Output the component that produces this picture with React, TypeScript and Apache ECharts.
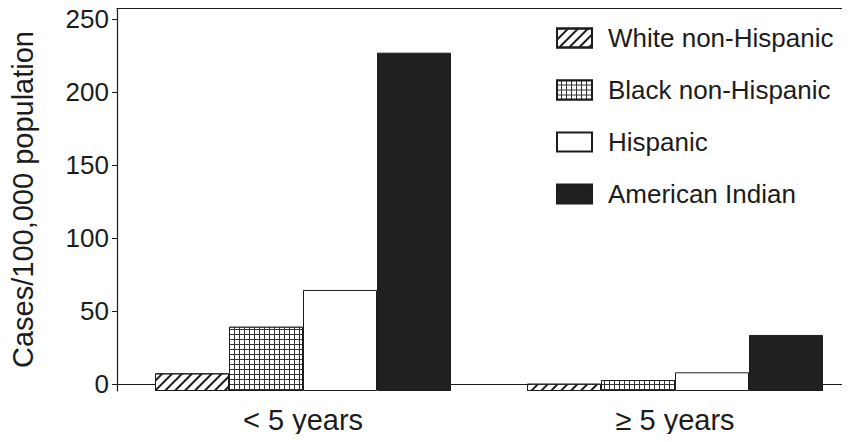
import React, { useEffect, useRef } from "react";
import * as echarts from "echarts";

const categories = ["< 5 years", "≥ 5 years"];
const seriesNames = ["White non-Hispanic", "Black non-Hispanic", "Hispanic", "American Indian"];
const whiteNonHispanic = [7.3, 0.2];
const blackNonHispanic = [39.2, 2.7];
const hispanic = [64.4, 8.0];
const americanIndian = [226.9, 33.6];
const yTicks = [0, 50, 100, 150, 200, 250];

const INK = "#1c1c1c";
const FONT = "'Liberation Sans', Arial, Helvetica, sans-serif";

export default function App() {
  const ref = useRef<HTMLDivElement>(null);
  useEffect(() => {
    if (!ref.current) return;
    const chart = echarts.init(ref.current, undefined, { renderer: "svg" });
    const styles: any[] = [
      {
        color: "#ffffff",
        borderColor: INK,
        borderWidth: 1,
        decal: {
          symbol: "rect",
          color: INK,
          dashArrayX: [1, 0],
          dashArrayY: [1.1, 5],
          rotation: -Math.PI / 4,
          symbolSize: 1,
        },
      },
      {
        color: "#333333",
        borderColor: INK,
        borderWidth: 1,
        decal: {
          symbol: "rect",
          color: "#ffffff",
          dashArrayX: [4, 1],
          dashArrayY: [4, 1],
          symbolSize: 1,
        },
      },
      { color: "#ffffff", borderColor: INK, borderWidth: 1 },
      { color: "#202020", borderColor: INK, borderWidth: 1 },
    ];
    const dataSets = [whiteNonHispanic, blackNonHispanic, hispanic, americanIndian];
    chart.setOption({
      animation: false,
      backgroundColor: "#ffffff",
      textStyle: { fontFamily: FONT, color: INK },
      grid: { left: 117, top: 8, width: 744, height: 383, containLabel: false },
      legend: {
        orient: "vertical",
        left: 556,
        top: 25,
        padding: 0,
        itemWidth: 35,
        itemHeight: 19,
        itemGap: 26,
        selectedMode: false,
        icon: "rect",
        textStyle: { fontSize: 26, color: INK, fontFamily: FONT, padding: [0, 0, 0, 11] },
        data: seriesNames,
      },
      xAxis: [
        {
          type: "category",
          data: categories,
          position: "bottom",
          axisLine: { show: true, lineStyle: { color: INK, width: 1.2 } },
          axisTick: { show: false },
          axisLabel: { fontSize: 29, color: INK, fontFamily: FONT, margin: 14 },
        },
        {
          type: "category",
          data: categories,
          position: "top",
          axisLine: { show: true, lineStyle: { color: INK, width: 1.2 } },
          axisTick: { show: false },
          axisLabel: { show: false },
        },
      ],
      yAxis: {
        type: "value",
        min: -4.8,
        max: 257.5,
        startValue: -4.8,
        name: "Cases/100,000 population",
        nameLocation: "middle",
        nameGap: 80,
        nameTextStyle: { fontSize: 29, color: INK, fontFamily: FONT },
        axisLine: { show: true, lineStyle: { color: INK, width: 1.2 } },
        axisTick: { show: true, length: 5, customValues: yTicks, lineStyle: { color: INK } },
        axisLabel: { fontSize: 26, color: INK, fontFamily: FONT, margin: 8, customValues: yTicks },
        splitLine: { show: false },
      },
      series: seriesNames.map((name, i) => ({
        name,
        type: "bar",
        data: dataSets[i],
        barWidth: 74,
        barGap: "0%",
        itemStyle: styles[i],
      })),
    });
    return () => chart.dispose();
  }, []);
  return (
    <div style={{ width: 850, height: 442, margin: -8, overflow: "hidden", position: "relative" }}>
      <div ref={ref} style={{ width: 880, height: 442 }} />
    </div>
  );
}
